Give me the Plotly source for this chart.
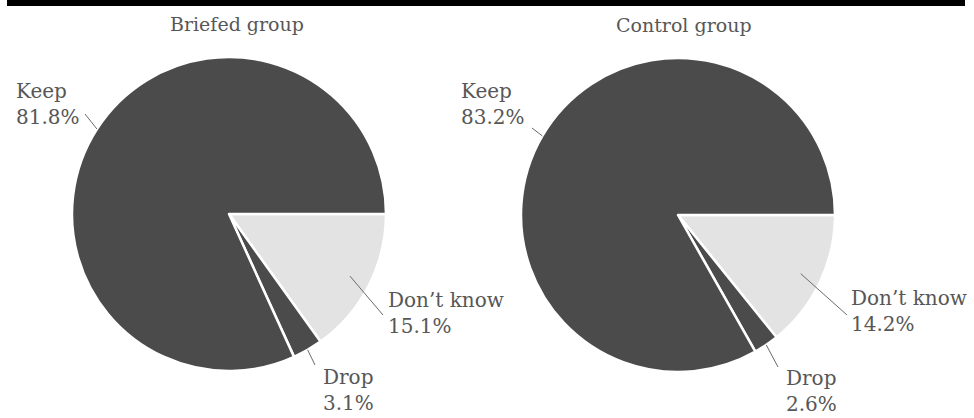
import math
import plotly.graph_objects as go

# ---- data (clockwise from 3 o'clock) ----
groups = ["Briefed group", "Control group"]
categories = ["Don\u2019t know", "Drop", "Keep"]
briefed_values = [15.1, 3.1, 81.8]
control_values = [14.2, 2.6, 83.2]
label_texts_briefed = ["Don\u2019t know<br>15.1%", "Drop<br>3.1%", "Keep<br>81.8%"]
label_texts_control = ["Don\u2019t know<br>14.2%", "Drop<br>2.6%", "Keep<br>83.2%"]

W, H = 974, 418
DARK = "#4b4b4b"
LIGHT = "#e3e3e3"
TEXT = "#575757"
FONT = "DejaVu Serif"


def px(x):
    return x / W


def py(y):
    return 1 - y / H


# layout geometry (pixels)
pies = [
    dict(cx=229, cy=214, r=157, values=briefed_values, texts=label_texts_briefed,
         title_xy=(237, 24),
         # per category: (line start radius, line end px, text anchor px, xanchor)
         labels=[(136, (383, 315), (386, 313), "left"),
                 (157, (315, 365), (321, 390), "left"),
                 (157, (85, 114), (82, 104), "right")]),
    dict(cx=678, cy=215, r=157, values=control_values, texts=label_texts_control,
         title_xy=(684, 25),
         labels=[(136, (847, 315), (849, 311), "left"),
                 (157, (778, 367), (784, 391), "left"),
                 (157, (532, 128), (527, 104), "right")]),
]

fig = go.Figure()
shapes = []
annotations = []

for g, p in zip(groups, pies):
    cx, cy, r = p["cx"], p["cy"], p["r"]
    fig.add_trace(go.Pie(
        labels=categories,
        values=p["values"],
        sort=False,
        direction="clockwise",
        rotation=90,
        textinfo="none",
        hoverinfo="label+percent",
        showlegend=False,
        marker=dict(colors=[LIGHT, DARK, DARK], line=dict(color="white", width=2.5)),
        domain=dict(x=[px(cx - r), px(cx + r)], y=[py(cy + r), py(cy - r)]),
        name=g,
    ))
    # title
    annotations.append(dict(text=g, x=px(p["title_xy"][0]), y=py(p["title_xy"][1]),
                            xref="paper", yref="paper", showarrow=False,
                            xanchor="center", yanchor="middle",
                            font=dict(family=FONT, size=19, color=TEXT)))
    total = sum(p["values"])
    cum = 0.0
    for v, txt, (r0, end, tpos, xa) in zip(p["values"], p["texts"], p["labels"]):
        mid = (cum + v / 2) / total * 2 * math.pi  # clockwise from 3 o'clock (screen)
        cum += v
        sx = cx + r0 * math.cos(mid)
        sy = cy + r0 * math.sin(mid)
        shapes.append(dict(type="line", xref="paper", yref="paper",
                           x0=px(sx), y0=py(sy), x1=px(end[0]), y1=py(end[1]),
                           line=dict(color="#6a6a6a", width=1)))
        annotations.append(dict(text=txt, x=px(tpos[0]), y=py(tpos[1]),
                                xref="paper", yref="paper", showarrow=False,
                                xanchor=xa, yanchor="middle", align="left",
                                font=dict(family=FONT, size=20, color=TEXT)))

# black band at the top
shapes.append(dict(type="rect", xref="paper", yref="paper",
                   x0=px(7), x1=px(965), y0=py(6), y1=1,
                   fillcolor="black", line=dict(width=0), layer="above"))

fig.update_layout(
    width=W, height=H,
    margin=dict(l=0, r=0, t=0, b=0),
    paper_bgcolor="white", plot_bgcolor="white",
    shapes=shapes, annotations=annotations,
)

fig.write_html("out.html", config={"displayModeBar": False},
               post_script="document.body.style.margin='0';")
